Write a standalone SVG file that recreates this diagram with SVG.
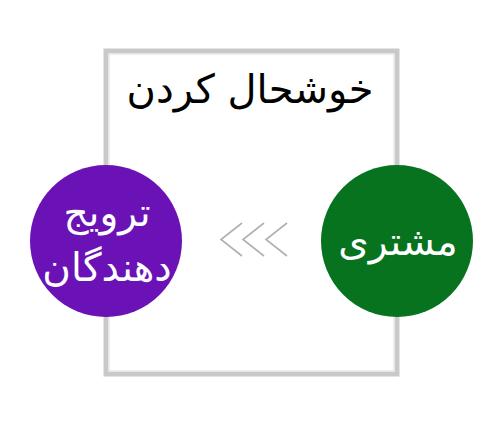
<svg xmlns="http://www.w3.org/2000/svg" width="500" height="423" viewBox="0 0 500 423">
<style>
.t{font-family:"DejaVu Sans","Noto Sans",sans-serif;text-anchor:middle}
.w{fill:#ffffff;font-size:39px}
.chev{fill:none;stroke:#b0b0b0;stroke-width:1.6}
</style>
<rect width="500" height="423" fill="#ffffff"/>
<g id="frame">
<rect x="106" y="51" width="291" height="323" fill="#ffffff" stroke="#c9c9c9" stroke-width="5"/>
<rect x="109" y="54" width="285" height="317" fill="none" stroke="#e8e8e8" stroke-width="1.5"/>
<text class="t" x="250" y="103" font-size="40" fill="#000000">خوشحال کردن</text>
</g>
<g id="connectors">
<polyline class="chev" points="242,223 221,239.5 242,256"/>
<polyline class="chev" points="264,223 243,239.5 264,256"/>
<polyline class="chev" points="287,223 266,239.5 287,256"/>
</g>
<g id="promoters">
<circle cx="106" cy="241" r="76" fill="#6a12b5"/>
<text class="t w" x="107" y="226">ترویج</text>
<text class="t w" x="107" y="281">دهندگان</text>
</g>
<g id="customer">
<circle cx="397" cy="241" r="76" fill="#07731f"/>
<text class="t w" x="398" y="255" font-size="38">مشتری</text>
</g>
</svg>
